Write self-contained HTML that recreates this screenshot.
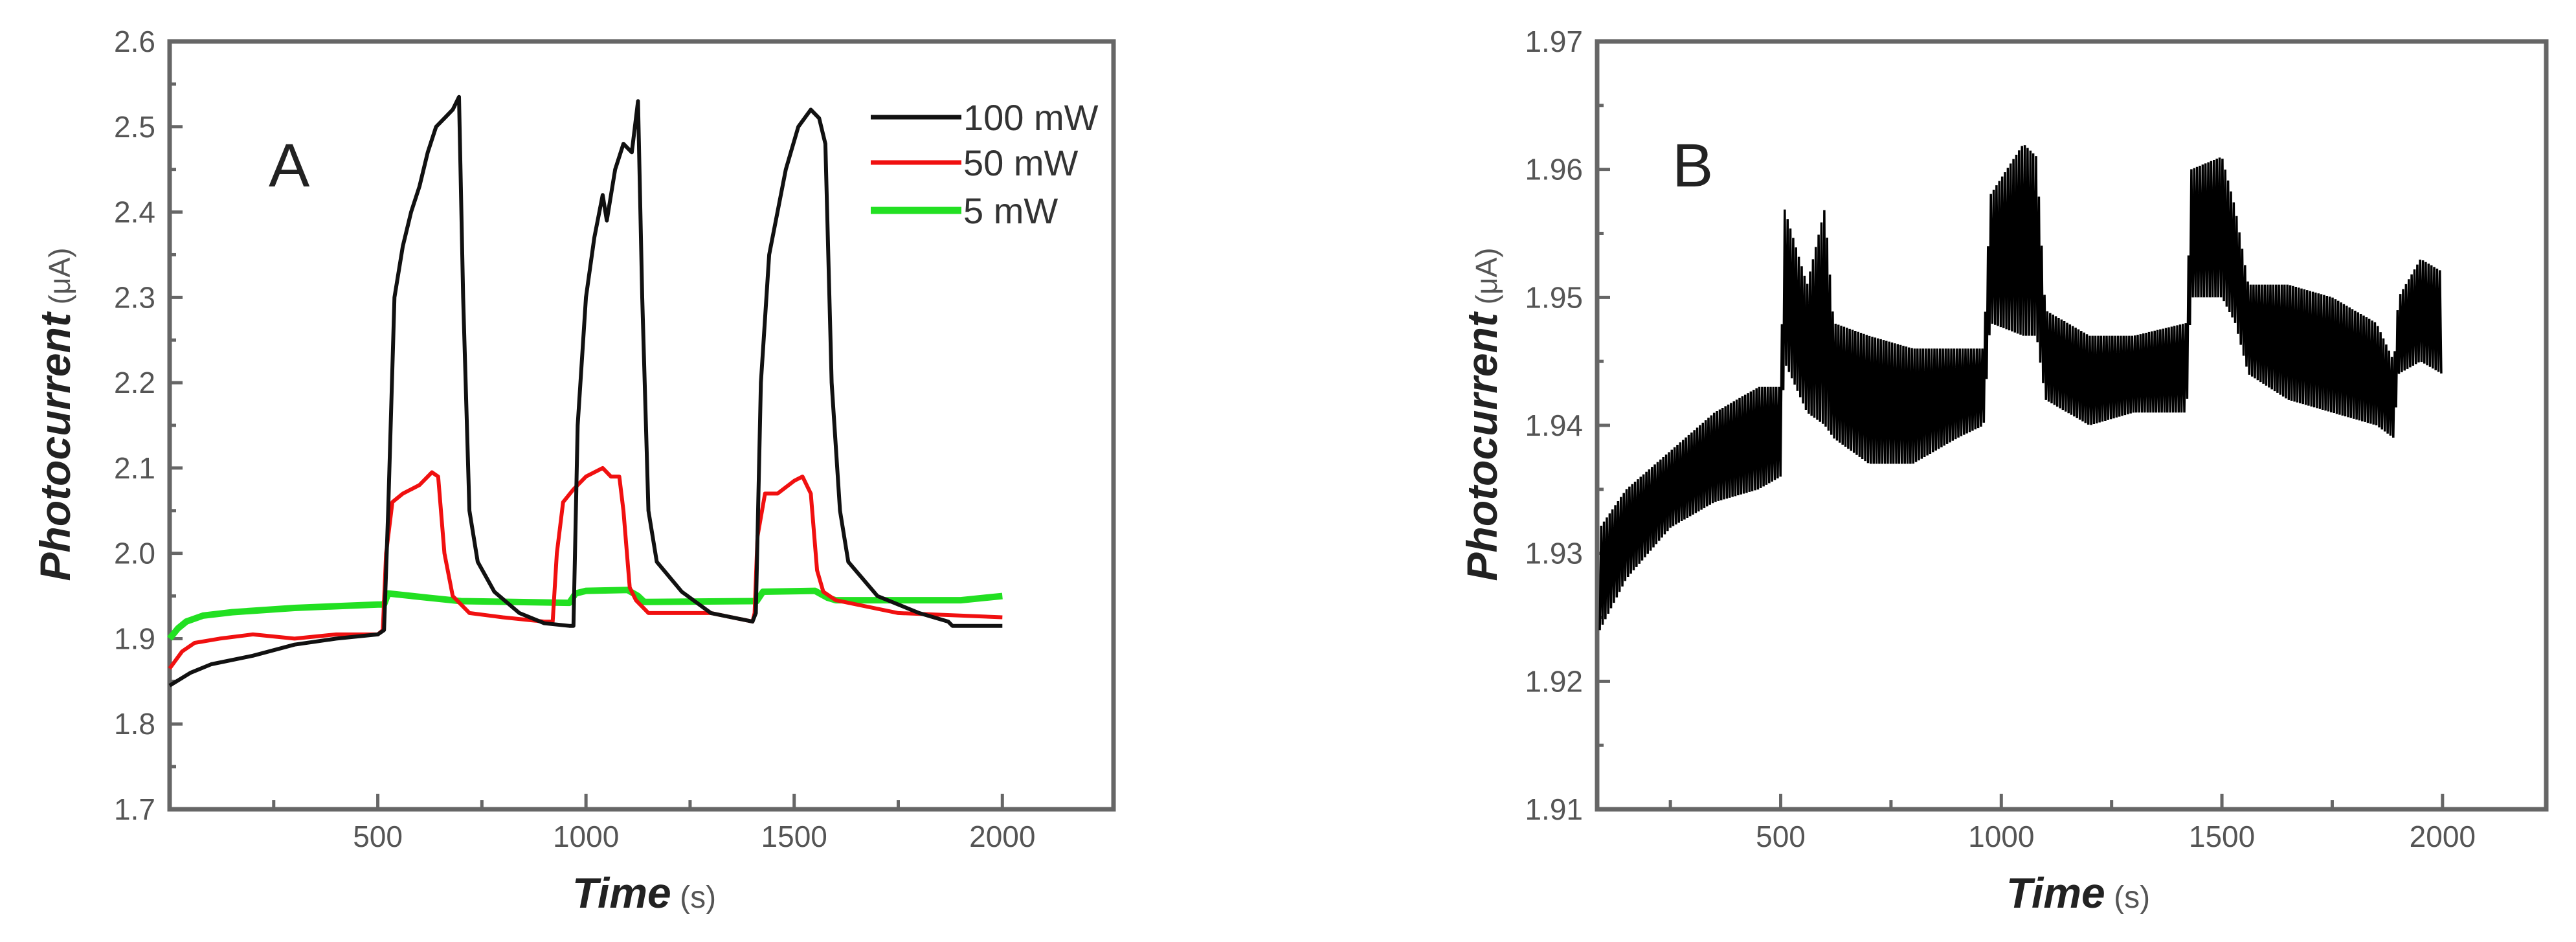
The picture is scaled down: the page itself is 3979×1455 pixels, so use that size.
<!DOCTYPE html>
<html><head><meta charset="utf-8"><style>
html,body{margin:0;padding:0;background:#fff;}
svg{display:block;font-family:"Liberation Sans",Arial,sans-serif;}
</style></head><body>
<svg id="fig" width="3979" height="1455" viewBox="0 0 3979 1455"></svg>
<script>
// Panel A data
const aBlackT=[0,50,100,200,300,400,500,515,525,540,560,580,600,620,640,660,680,695,705,720,740,780,840,900,960,970,980,1000,1020,1040,1050,1070,1090,1110,1125,1135,1150,1170,1230,1300,1400,1408,1420,1440,1480,1510,1540,1560,1575,1590,1610,1630,1700,1800,1870,1880,2000];
const aBlackV=[1.845,1.86,1.87,1.88,1.893,1.9,1.905,1.91,2.05,2.3,2.36,2.4,2.43,2.47,2.5,2.51,2.52,2.535,2.3,2.05,1.99,1.955,1.93,1.918,1.915,1.915,2.15,2.3,2.37,2.42,2.39,2.45,2.48,2.47,2.53,2.3,2.05,1.99,1.955,1.93,1.92,1.93,2.2,2.35,2.45,2.5,2.52,2.51,2.48,2.2,2.05,1.99,1.95,1.93,1.92,1.915,1.915];
const aRedT=[0,30,60,120,200,300,400,500,512,520,535,560,600,630,645,660,680,720,800,900,920,930,945,970,1000,1040,1060,1080,1090,1105,1120,1150,1300,1400,1405,1412,1430,1460,1500,1520,1540,1555,1570,1600,1750,2000];
const aRedV=[1.865,1.885,1.895,1.9,1.905,1.9,1.905,1.905,1.91,2.0,2.06,2.07,2.08,2.095,2.09,2.0,1.95,1.93,1.925,1.92,1.92,2.0,2.06,2.075,2.09,2.1,2.09,2.09,2.05,1.96,1.945,1.93,1.93,1.92,1.93,2.02,2.07,2.07,2.085,2.09,2.07,1.98,1.955,1.945,1.93,1.925];
const aGreenT=[0,20,40,80,150,300,500,515,525,620,700,960,975,1000,1100,1125,1140,1400,1410,1425,1550,1580,1600,1900,2000];
const aGreenV=[1.9,1.912,1.92,1.927,1.931,1.936,1.94,1.94,1.953,1.948,1.944,1.942,1.953,1.956,1.957,1.95,1.943,1.944,1.944,1.955,1.956,1.948,1.945,1.945,1.95];
const aXTicks=[500,1000,1500,2000];
const aYTicks=[1.7,1.8,1.9,2.0,2.1,2.2,2.3,2.4,2.5,2.6];
const legendLabels=["100 mW","50 mW","5 mW"];
// Panel B data (noisy signal envelope)
const bT=[90,150,250,350,450,500,508,560,600,620,700,800,900,960,975,1050,1080,1100,1200,1300,1420,1430,1500,1530,1560,1650,1750,1850,1890,1900,1950,2000];
const bLow=[1.924,1.928,1.932,1.934,1.935,1.936,1.945,1.941,1.940,1.939,1.937,1.937,1.939,1.940,1.948,1.947,1.947,1.942,1.940,1.941,1.941,1.950,1.950,1.948,1.944,1.942,1.941,1.940,1.939,1.944,1.945,1.944];
const bHigh=[1.932,1.935,1.938,1.941,1.943,1.943,1.957,1.951,1.957,1.948,1.947,1.946,1.946,1.946,1.958,1.962,1.961,1.949,1.947,1.947,1.948,1.960,1.961,1.957,1.951,1.951,1.950,1.948,1.945,1.950,1.953,1.952];
const bXTicks=[500,1000,1500,2000];
const bYTicks=[1.91,1.92,1.93,1.94,1.95,1.96,1.97];

const NS="http://www.w3.org/2000/svg";
const svg=document.getElementById('fig');
function mk(tag,attrs,parent){const e=document.createElementNS(NS,tag);for(const k in attrs)e.setAttribute(k,attrs[k]);(parent||svg).appendChild(e);return e;}
function axis(x0,x1,y0,y1,dmin,dmax,vmin,vmax){
  return {x:v=>x0+(v-dmin)/(dmax-dmin)*(x1-x0), y:v=>y1-(v-vmin)/(vmax-vmin)*(y1-y0)};
}
function frame(g,L,R,T,B,ax,xt,yt,dec,xminor,yminor){
  const f=mk('rect',{x:L,y:T,width:R-L,height:B-T,fill:'none',stroke:'#666',"stroke-width":7},g);
  
  
  xminor.forEach(v=>{const t=mk('line',{x1:ax.x(v),x2:ax.x(v),y1:B,y2:B-(v%500===0?24:14),stroke:'#666',"stroke-width":5},g);
    });
  xt.forEach(v=>{const t=mk('text',{x:ax.x(v),y:B+58,"text-anchor":'middle',"font-size":46,fill:'#555'},g);t.textContent=v;
    });
  yminor.forEach((v,i)=>{const t=mk('line',{x1:L,x2:L+(i%2?10:20),y1:ax.y(v),y2:ax.y(v),stroke:'#666',"stroke-width":5},g);
    });
  yt.forEach(v=>{const t=mk('text',{x:L-22,y:ax.y(v)+16,"text-anchor":'end',"font-size":46,fill:'#555'},g);t.textContent=v.toFixed(dec);
    });
}
function titles(g,xc,ty,yx,yc){
  const xt=mk('text',{x:xc,y:ty,"text-anchor":'middle',"font-size":66,fill:'#222'},g);
  xt.innerHTML='<tspan font-weight="bold" font-style="italic">Time</tspan><tspan font-size="48" fill="#555"> (s)</tspan>';
  
  const yt=mk('text',{x:0,y:0,"text-anchor":'middle',"font-size":66,fill:'#222',transform:`translate(${yx},${yc}) rotate(-90)`},g);
  yt.innerHTML='<tspan font-weight="bold" font-style="italic">Photocurrent</tspan><tspan font-size="46" fill="#555"> (μA)</tspan>';
  
}
function line(g,ax,T,V,color,w,name){
  const d=T.map((t,i)=>(i?'L':'M')+ax.x(t).toFixed(1)+' '+ax.y(V[i]).toFixed(1)).join(' ');
  const p=mk('path',{d:d,fill:'none',stroke:color,"stroke-width":w,"stroke-linejoin":'round'},g);
  
}
// ---- Panel A
const gA=mk('g',{});


const LA=262,RA=1720,TA=64,BA=1250;
const axA=axis(LA,RA,TA,BA,0,2267,1.7,2.6);
const xminA=[250,500,750,1000,1250,1500,1750,2000];
const yminA=[];for(let i=0;i<=18;i++)yminA.push(1.7+i*0.05);
frame(gA,LA,RA,TA,BA,axA,aXTicks,aYTicks,1,xminA,yminA);
titles(gA,995,1402,108,640);
line(gA,axA,aGreenT,aGreenV,'#22e022',10,'series-5mw');
line(gA,axA,aRedT,aRedV,'#f01010',6,'series-50mw');
line(gA,axA,aBlackT,aBlackV,'#111',6,'series-100mw');
const la=mk('text',{x:415,y:288,"font-size":95,fill:'#222'},gA);la.textContent='A';

const legColors=['#111','#f01010','#22e022'];
const legY=[181,251,325];
legendLabels.forEach((lab,i)=>{
  const l=mk('line',{x1:1345,x2:1485,y1:legY[i],y2:legY[i],stroke:legColors[i],"stroke-width":i==2?11:7},gA);
  
  const t=mk('text',{x:1488,y:legY[i]+20,"font-size":56,fill:'#333'},gA);t.textContent=lab;
  
});
// ---- Panel B
const gB=mk('g',{});


const LB=2467,RB=3933,TB=64,BB=1250;
const axB=axis(LB,RB,TB,BB,84,2235,1.91,1.97);
const xminB=[250,500,750,1000,1250,1500,1750,2000];
const yminB=[];for(let i=0;i<=12;i++)yminB.push(1.91+i*0.005);
frame(gB,LB,RB,TB,BB,axB,bXTicks,bYTicks,2,xminB,yminB);
titles(gB,3210,1402,2312,640);
// zigzag between envelopes
(function(){
  const pts=[];let k=0;
  for(let t=bT[0];t<=bT[bT.length-1];t+=3.2){
    let j=0;while(j<bT.length-2&&bT[j+1]<t)j++;
    const f=(t-bT[j])/(bT[j+1]-bT[j]);
    const lo=bLow[j]+(bLow[j+1]-bLow[j])*f, hi=bHigh[j]+(bHigh[j+1]-bHigh[j])*f;
    pts.push([t,(k%2)?hi:lo]);k++;
  }
  const d=pts.map((p,i)=>(i?'L':'M')+axB.x(p[0]).toFixed(1)+' '+axB.y(p[1]).toFixed(1)).join(' ');
  const p=mk('path',{d:d,fill:'none',stroke:'#000',"stroke-width":3.5},gB);
  
  
})();
const lb=mk('text',{x:2583,y:288,"font-size":95,fill:'#222'},gB);lb.textContent='B';

</script>
</body></html>
